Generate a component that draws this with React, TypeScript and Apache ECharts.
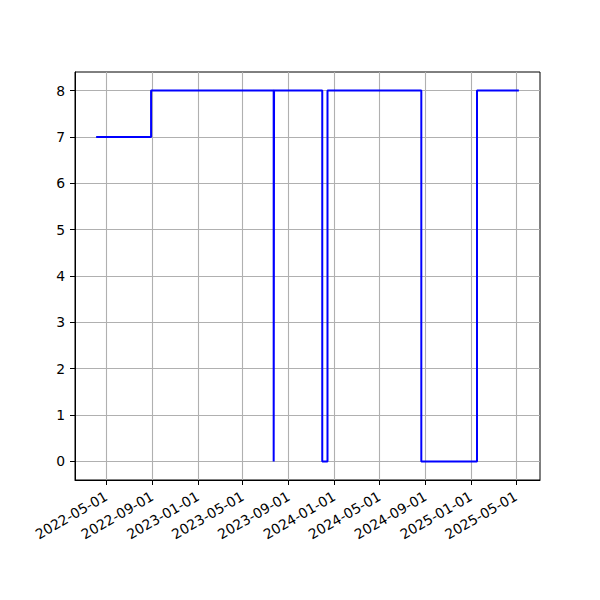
import React, { useEffect, useRef } from "react";
import * as echarts from "echarts";

const dates = [
  "2022-04-04",
  "2022-08-29",
  "2023-07-23",
  "2023-07-24",
  "2023-11-30",
  "2023-12-14",
  "2024-08-21",
  "2025-01-17",
  "2025-05-09",
];
const values = [7, 8, 0, 8, 0, 8, 0, 8, 8];
const xTickLabels = [
  "2022-05-01",
  "2022-09-01",
  "2023-01-01",
  "2023-05-01",
  "2023-09-01",
  "2024-01-01",
  "2024-05-01",
  "2024-09-01",
  "2025-01-01",
  "2025-05-01",
];
const yTicks = [0, 1, 2, 3, 4, 5, 6, 7, 8];

const ts = (d: string) => Date.UTC(+d.slice(0, 4), +d.slice(5, 7) - 1, +d.slice(8, 10));
const pad2 = (n: number) => (n < 10 ? "0" + n : "" + n);
const fmt = (v: number) => {
  const d = new Date(v);
  return `${d.getUTCFullYear()}-${pad2(d.getUTCMonth() + 1)}-${pad2(d.getUTCDate())}`;
};

export default function App() {
  const ref = useRef<HTMLDivElement>(null);
  useEffect(() => {
    if (!ref.current) return;
    const chart = echarts.init(ref.current, null, { renderer: "svg" });
    const xs = dates.map(ts);
    const span = xs[xs.length - 1] - xs[0];
    const xTicks = xTickLabels.map(ts);
    const font = "DejaVu Sans";
    chart.setOption({
      animation: false,
      grid: {
        left: 75,
        right: 60,
        top: 72,
        bottom: 120,
        show: true,
        borderColor: "#000",
        borderWidth: 1,
        containLabel: false,
      },
      xAxis: {
        type: "value",
        min: xs[0] - span * 0.05,
        max: xs[xs.length - 1] + span * 0.05,
        axisLine: { show: true, onZero: false, lineStyle: { color: "#000", width: 1 } },
        axisTick: {
          show: true,
          length: 5,
          lineStyle: { color: "#000", width: 1 },
          customValues: xTicks,
        },
        axisLabel: {
          customValues: xTicks,
          formatter: (v: number) => fmt(v),
          rotate: 30,
          color: "#000",
          fontFamily: font,
          fontSize: 13.9,
          margin: 15,
          showMinLabel: true,
          showMaxLabel: true,
        },
        splitLine: { show: true, lineStyle: { color: "#b0b0b0", width: 1.1 } },
      },
      yAxis: {
        type: "value",
        min: -0.4,
        max: 8.4,
        axisLine: { show: true, onZero: false, lineStyle: { color: "#000", width: 1 } },
        axisTick: {
          show: true,
          length: 5,
          lineStyle: { color: "#000", width: 1 },
          customValues: yTicks,
        },
        axisLabel: {
          customValues: yTicks,
          color: "#000",
          fontFamily: font,
          fontSize: 13.9,
          margin: 10,
        },
        splitLine: { show: true, lineStyle: { color: "#b0b0b0", width: 1.1 } },
      },
      series: [
        {
          type: "line",
          step: "end",
          showSymbol: false,
          symbol: "none",
          data: xs.map((x, i) => [x, values[i]]),
          lineStyle: { color: "#0000ff", width: 2 },
        },
      ],
    });
    return () => chart.dispose();
  }, []);
  return (
    <div
      ref={ref}
      style={{ position: "fixed", left: 0, top: 0, width: 600, height: 600, background: "#fff" }}
    />
  );
}
